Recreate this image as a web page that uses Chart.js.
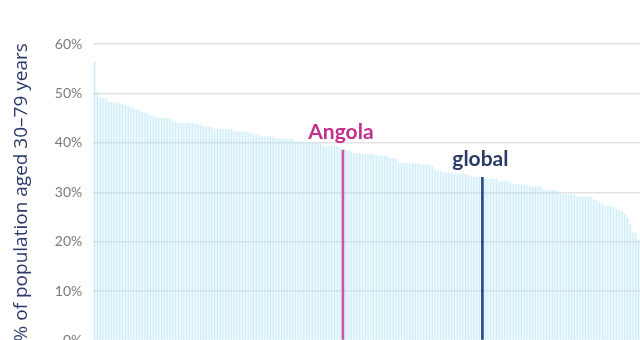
<!DOCTYPE html>
<html>
<head>
<meta charset="utf-8">
<script src="https://cdn.jsdelivr.net/npm/chart.js@4"></script>
<style>
  html, body { margin: 0; padding: 0; background: #fff; overflow: hidden; }
  #wrap { width: 640px; height: 360px; position: relative; }
</style>
</head>
<body>
<div id="wrap"><canvas id="my-canvas"></canvas></div>
<script>
// one bar per country, sorted high to low (% of population aged 30-79 years)
const values = [
  56.4, 50.3, 49.1, 49.0, 48.9, 48.2, 48.2, 48.2, 48.1, 47.9,
  47.8, 47.6, 47.5, 47.2, 47.0, 46.7, 46.6, 46.2, 46.1, 45.9,
  45.5, 45.4, 45.2, 45.1, 45.1, 45.0, 45.0, 45.0, 44.4, 44.1,
  44.0, 44.0, 44.0, 44.0, 44.0, 44.0, 43.9, 43.8, 43.6, 43.3,
  43.2, 43.2, 43.1, 42.8, 42.8, 42.8, 42.8, 42.8, 42.8, 42.7,
  42.3, 42.3, 42.3, 42.3, 42.3, 42.2, 41.8, 41.7, 41.6, 41.5,
  41.3, 41.3, 41.3, 41.3, 41.2, 40.8, 40.8, 40.8, 40.8, 40.8,
  40.8, 40.7, 40.3, 40.3, 40.2, 40.1, 40.0, 40.0, 40.0, 39.9,
  39.9, 39.8, 39.4, 39.4, 39.4, 39.4, 39.4, 39.3, 39.0, 38.6,
  38.6, 38.5, 38.3, 37.9, 37.9, 37.9, 37.8, 37.7, 37.7, 37.7,
  37.6, 37.4, 37.4, 37.4, 37.4, 37.3, 36.9, 36.9, 36.8, 35.9,
  35.9, 35.9, 35.9, 35.9, 35.9, 35.8, 35.8, 35.6, 35.6, 35.6,
  35.5, 35.2, 34.6, 34.3, 34.3, 34.0, 34.0, 34.0, 34.0, 33.7,
  33.7, 33.7, 33.7, 33.7, 33.6, 33.1, 33.1, 33.1, 33.1, 33.1,
  32.7, 32.7, 32.7, 32.7, 32.6, 32.2, 32.2, 32.2, 32.2, 32.1,
  31.6, 31.6, 31.6, 31.6, 31.6, 31.5, 31.1, 31.1, 31.1, 31.1,
  31.0, 30.4, 30.4, 30.4, 30.4, 30.4, 30.3, 29.6, 29.6, 29.6,
  29.6, 29.6, 29.5, 29.1, 29.1, 29.1, 29.1, 29.1, 29.0, 28.6,
  28.3, 28.0, 27.7, 27.2, 27.2, 27.2, 27.1, 26.6, 26.4, 26.2,
  25.7, 24.8, 23.6, 22.0, 21.8, 20.5
]
const categories = values.map((v, i) => 'c' + (i + 1))

// highlighted bars
const highlightIndex = [89, 139]
const highlightNames = ['Angola', 'global']
const highlightBarColors = ['#c45aa0', '#2a4a86']
const highlightTextColors = ['#c0308c', '#2c3a66']

const yTicks = [0, 10, 20, 30, 40, 50, 60]

const highlightData = values.map((v, i) => highlightIndex.includes(i) ? v : null)
const highlightColors = values.map((v, i) => {
  const k = highlightIndex.indexOf(i)
  return k >= 0 ? highlightBarColors[k] : 'rgba(0,0,0,0)'
})

const labelPlugin = {
  id: 'highlightLabels',
  afterDatasetsDraw(chart) {
    const ctx = chart.ctx
    const meta = chart.getDatasetMeta(0)
    ctx.save()
    ctx.font = 'bold 21px Lato'
    ctx.textAlign = 'center'
    ctx.textBaseline = 'alphabetic'
    highlightIndex.forEach((idx, k) => {
      const el = meta.data[idx]
      ctx.fillStyle = highlightTextColors[k]
      ctx.fillText(highlightNames[k], el.x - 2, el.y - 11)
    })
    ctx.restore()
  }
}

window.onload = () => {
  const canvas = document.querySelector('#my-canvas')
  const ctx = canvas.getContext('2d')

  new Chart(ctx, {
    type: 'bar',
    data: {
      labels: categories,
      datasets: [
        {
          data: highlightData,
          backgroundColor: highlightColors,
          grouped: false,
          barPercentage: 0.95,
          categoryPercentage: 1
        },
        {
          data: values,
          backgroundColor: 'rgba(150,214,235,0.4)',
          grouped: false,
          barPercentage: 0.42,
          categoryPercentage: 1
        },
        {
          data: values,
          backgroundColor: 'rgba(200,238,250,0.22)',
          grouped: false,
          barPercentage: 1,
          categoryPercentage: 1
        }
      ]
    },
    options: {
      responsive: true,
      maintainAspectRatio: false,
      animation: false,
      layout: { padding: { top: 44, left: 2, right: 0, bottom: 0 } },
      plugins: {
        legend: { display: false },
        tooltip: { enabled: false }
      },
      scales: {
        x: { display: false },
        y: {
          min: 0,
          max: 60,
          afterBuildTicks: (axis) => { axis.ticks = yTicks.map(v => ({ value: v })) },
          border: { display: false },
          grid: { color: '#e2e2e2', lineWidth: 1.6, drawTicks: false },
          ticks: {
            padding: 11,
            color: '#7a7a7a',
            font: { family: 'Lato', size: 14 },
            callback: (v) => v + '%'
          },
          title: {
            display: true,
            text: '% of population aged 30–79 years',
            color: '#2c3a6b',
            font: { family: 'Open Sans', size: 19 },
            padding: { top: 8, bottom: 11 }
          }
        }
      }
    },
    plugins: [labelPlugin]
  })
}
</script>
</body>
</html>
